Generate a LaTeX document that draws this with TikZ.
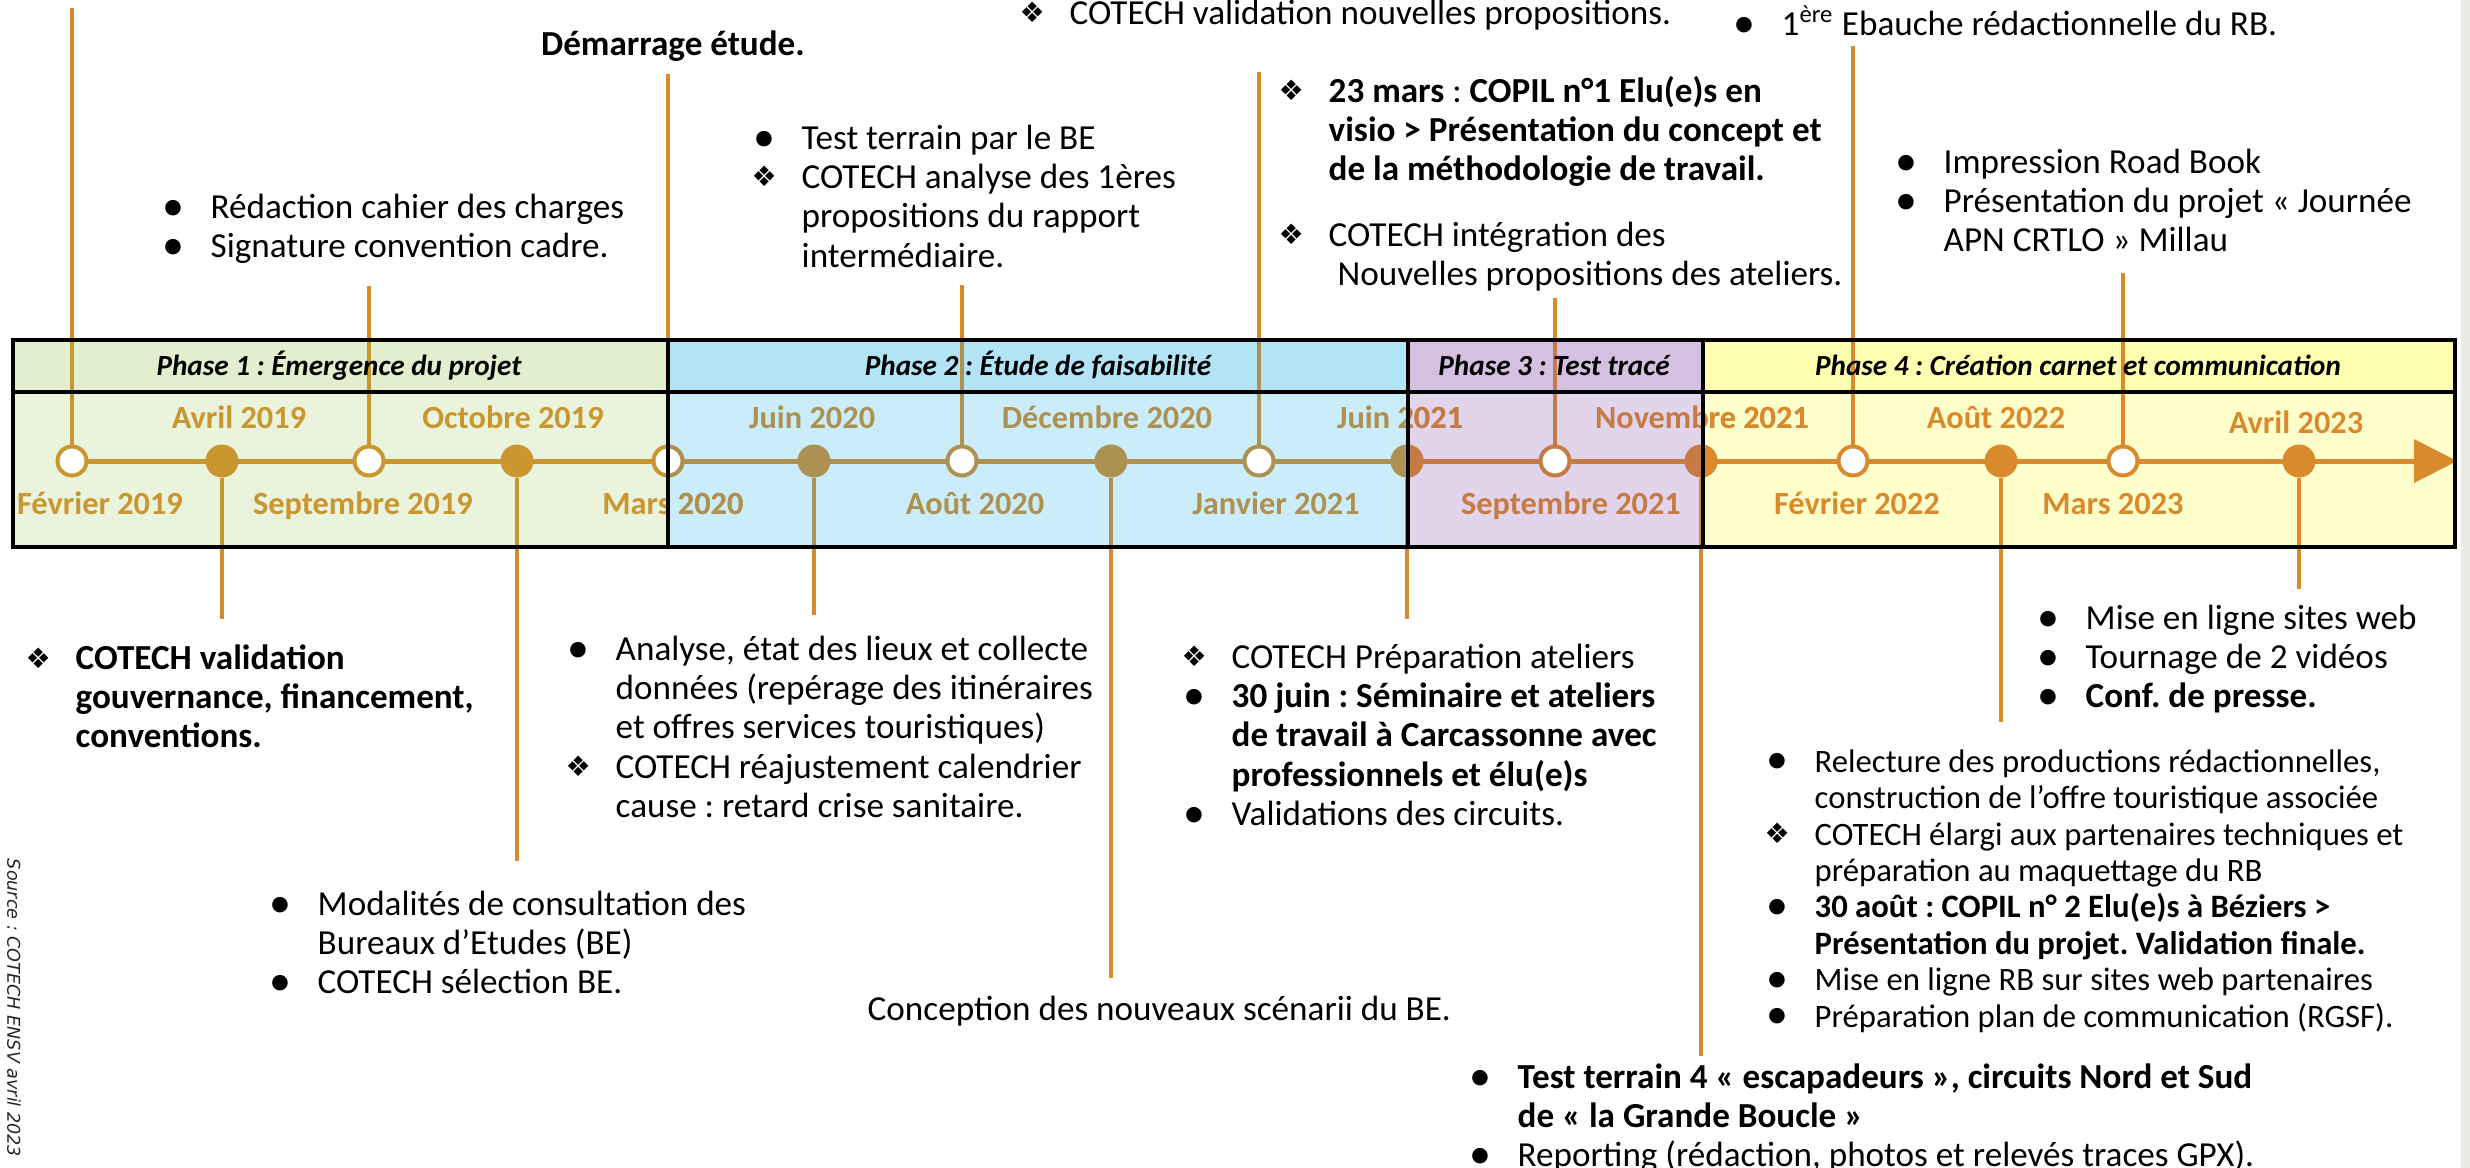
\documentclass[tikz,border=0pt]{standalone}
\usepackage{fontspec}
\setmainfont{Carlito}
\newfontfamily\djv{DejaVu Sans}
\frenchspacing
\pgfdeclarelayer{back}\pgfdeclarelayer{mid}\pgfdeclarelayer{front}
\pgfsetlayers{back,mid,main,front}
\definecolor{ph1h}{HTML}{E1EFCF}\definecolor{ph1b}{HTML}{EAF4DC}
\definecolor{ph2h}{HTML}{B2E4F6}\definecolor{ph2b}{HTML}{CBEDF9}
\definecolor{ph3h}{HTML}{D5C0E2}\definecolor{ph3b}{HTML}{E2D4EB}
\definecolor{ph4h}{HTML}{FFFFB2}\definecolor{ph4b}{HTML}{FFFFCC}
\definecolor{tl1}{HTML}{C9962F}\definecolor{tl2}{HTML}{AD9152}
\definecolor{tl3}{HTML}{C67B45}\definecolor{tl4}{HTML}{D98A2C}
\definecolor{conn}{HTML}{D98A2C}\definecolor{strip}{HTML}{EAEAE4}
\newcommand{\bu}{\strut\makebox[5mm][l]{\hspace{0.2mm}\raisebox{-0.5pt}{\fontsize{12.5}{12}\selectfont •}}}
\newcommand{\di}{\strut\makebox[5mm][l]{\raisebox{0.1ex}{\djv\fontsize{8}{8}\selectfont ❖}}}
\newcommand{\ct}{\strut\hspace*{5mm}}
\begin{document}
\begin{tikzpicture}[x=0.1mm,y=-0.1mm,
  cn/.style={line width=0.45mm, draw=conn},
  axisln/.style={line width=0.5mm},
  bord/.style={line width=0.35mm, draw=black},
  omk/.style={circle, draw=#1, fill=white, line width=0.4mm, minimum size=2.9mm, inner sep=0pt},
  fmk/.style={circle, fill=#1, minimum size=3.3mm, inner sep=0pt},
  dl/.style={font=\bfseries\fontsize{9.2}{11}\selectfont, anchor=base, text=#1, inner sep=0pt},
  hd/.style={font=\bfseries\itshape\fontsize{8.3}{10}\selectfont, anchor=base, inner sep=0pt},
  blk/.style={anchor=north west, inner sep=0pt, align=left, font=\fontsize{10}{11.2}\selectfont},
  sblk/.style={anchor=north west, inner sep=0pt, align=left, font=\fontsize{9.3}{10.36}\selectfont},
]
\useasboundingbox (0,0) rectangle (2470,1168);
\begin{pgfonlayer}{back}
 \fill[white] (0,0) rectangle (2470,1168);
 \fill[strip] (2461,0) rectangle (2470,1168);
 \fill[ph1b] (13,340) rectangle (668,547);
 \fill[ph1h] (13,340) rectangle (668,392);
 \fill[ph2b] (668,340) rectangle (1408,547);
 \fill[ph2h] (668,340) rectangle (1408,392);
 \fill[ph3b] (1408,340) rectangle (1703,547);
 \fill[ph3h] (1408,340) rectangle (1703,392);
 \fill[ph4b] (1703,340) rectangle (2455,547);
 \fill[ph4h] (1703,340) rectangle (2455,392);
\end{pgfonlayer}
% coordinates
\coordinate (top) at (0,340);
\coordinate (bot) at (0,547);
\coordinate (c1) at (72,8);
\coordinate (c2) at (222,619);
\coordinate (c3) at (369,286);
\coordinate (c4) at (517,861);
\coordinate (c5) at (668,74);
\coordinate (c6) at (814,615);
\coordinate (c7) at (962,285);
\coordinate (c8) at (1111,978);
\coordinate (c9) at (1259,72);
\coordinate (c10) at (1407,619);
\coordinate (c11) at (1555,298);
\coordinate (c12) at (1701,1056);
\coordinate (c13) at (1853,46);
\coordinate (c14) at (2001,722);
\coordinate (c15) at (2123,273);
\coordinate (c16) at (2299,589);
\coordinate (a1) at (668,461);
\coordinate (a2) at (1408,461);
\coordinate (a3) at (1703,461);
\coordinate (a4) at (2416,461);
\coordinate (tip) at (2457,461);
% markers
\node[omk=tl1] (m1) at (72,461) {};
\node[fmk=tl1] (m2) at (222,461) {};
\node[omk=tl1] (m3) at (369,461) {};
\node[fmk=tl1] (m4) at (517,461) {};
\node[omk=tl1] (m5) at (668,461) {};
\node[fmk=tl2] (m6) at (814,461) {};
\node[omk=tl2] (m7) at (962,461) {};
\node[fmk=tl2] (m8) at (1111,461) {};
\node[omk=tl2] (m9) at (1259,461) {};
\node[fmk=tl2] (m10) at (1407,461) {};
\node[omk=tl3] (m11) at (1555,461) {};
\node[fmk=tl3] (m12) at (1701,461) {};
\node[omk=tl4] (m13) at (1853,461) {};
\node[fmk=tl4] (m14) at (2001,461) {};
\node[omk=tl4] (m15) at (2123,461) {};
\node[fmk=tl4] (m16) at (2299,461) {};
\begin{pgfonlayer}{mid}
 \foreach \i in {1,...,16} \draw[cn] (m\i) -- (c\i);
 \draw[cn, draw=tl1] (m1) -- (m1 |- top) (m3) -- (m3 |- top) (m2) -- (m2 |- bot) (m4) -- (m4 |- bot);
 \draw[cn, draw=tl2] (m7) -- (m7 |- top) (m9) -- (m9 |- top) (m6) -- (m6 |- bot) (m8) -- (m8 |- bot);
 \draw[cn, draw=tl3] (m11) -- (m11 |- top);
 \draw[axisln, draw=tl1] (m1.center) -- (a1);
 \draw[axisln, draw=tl2] (a1) -- (a2);
 \draw[axisln, draw=tl3] (a2) -- (a3);
 \draw[axisln, draw=tl4] (a3) -- (a4);
 \fill[tl4] (2414,439) -- (tip) -- (2414,483) -- cycle;
\end{pgfonlayer}
% date labels
\node[dl=tl1] (d2) at (239,428) {Avril 2019};
\node[dl=tl1] (d4) at (513,428) {Octobre 2019};
\node[dl=tl2] (d6) at (812,428) {Juin 2020};
\node[dl=tl2] (d8) at (1107,428) {Décembre 2020};
\node[dl=tl2] (d10) at (1400,428) {Juin 2021};
\node[dl=tl3] (d12) at (1702,428) {Novembre 2021};
\node[dl=tl4] (d14) at (1996,428) {Août 2022};
\node[dl=tl4] (d16) at (2296,433) {Avril 2023};
\node[dl=tl1] (d1) at (100,514) {Février 2019};
\node[dl=tl1] (d3) at (363,514) {Septembre 2019};
\node[dl=tl1] (d5) at (673,514) {Mars 2020};
\node[dl=tl2] (d7) at (975,514) {Août 2020};
\node[dl=tl2] (d9) at (1276,514) {Janvier 2021};
\node[dl=tl3] (d11) at (1571,514) {Septembre 2021};
\node[dl=tl4] (d13) at (1857,514) {Février 2022};
\node[dl=tl4] (d15) at (2113,514) {Mars 2023};
% straddling parts
\begin{scope}
 \clip (668,395) rectangle (1000,545);
 \draw[tl2, line width=0.4mm, fill=white] (m5.center) circle[radius=1.45mm];
 \node[dl=tl2] (d5b) at (673,514) {Mars 2020};
\end{scope}
\begin{scope}
 \clip (1408,395) rectangle (1700,545);
 \fill[tl3] (m10.center) circle[radius=1.65mm];
 \node[dl=tl3] (d10b) at (1400,428) {Juin 2021};
\end{scope}
\begin{scope}
 \clip (1703,395) rectangle (2000,545);
 \fill[tl4] (m12.center) circle[radius=1.65mm];
 \node[dl=tl4] (d12b) at (1702,428) {Novembre 2021};
\end{scope}
% text blocks
\node[font=\bfseries\fontsize{10}{11.2}\selectfont, anchor=base, inner sep=0pt] (tA) at (673,55) {Démarrage étude.};
\node[blk] (tB) at (160,190) {\bu Rédaction cahier des charges\\ \bu Signature convention cadre.};
\node[blk] (tC) at (751,121) {\bu Test terrain par le BE\\ \di COTECH analyse des 1ères\\ \ct propositions du rapport\\ \ct intermédiaire.};
\node[blk] (tD) at (1019,-4) {\di COTECH validation nouvelles propositions.};
\node[blk] (tE) at (1278,74) {\di\textbf{23 mars} : \textbf{COPIL n°1 Elu(e)s en}\\ \ct\textbf{visio > Présentation du concept et}\\ \ct\textbf{de la méthodologie de travail.}};
\node[blk] (tF) at (1278,218) {\di COTECH intégration des\\ \ct\hspace{0.9mm}Nouvelles propositions des ateliers.};
\node[blk] (tG) at (1731,5) {\bu 1\textsuperscript{ère} Ebauche rédactionnelle du RB.};
\node[blk] (tH) at (1893,145) {\bu Impression Road Book\\ \bu Présentation du projet « Journée\\ \ct APN CRTLO » Millau};
\node[blk, font=\bfseries\fontsize{10}{11}\selectfont] (tI) at (25,642) {\di COTECH validation\\ \ct gouvernance, financement,\\ \ct conventions.};
\node[blk] (tJ) at (565,632) {\bu Analyse, état des lieux et collecte\\ \ct données (repérage des itinéraires\\ \ct et offres services touristiques)\\ \di COTECH réajustement calendrier\\ \ct cause : retard crise sanitaire.};
\node[blk] (tK) at (267,887) {\bu Modalités de consultation des\\ \ct Bureaux d’Etudes (BE)\\ \bu COTECH sélection BE.};
\node[font=\fontsize{10}{11.2}\selectfont, anchor=base west, inner sep=0pt] (tL) at (867,1020) {Conception des nouveaux scénarii du BE.};
\node[blk] (tM) at (1181,640) {\di COTECH Préparation ateliers\\ \bu\textbf{30 juin : Séminaire et ateliers}\\ \ct\textbf{de travail à Carcassonne avec}\\ \ct\textbf{professionnels et élu(e)s}\\ \bu Validations des circuits.};
\node[blk] (tN) at (2035,601) {\bu Mise en ligne sites web\\ \bu Tournage de 2 vidéos\\ \bu\textbf{Conf. de presse.}};
\node[sblk] (tO) at (1764,746) {\bu Relecture des productions rédactionnelles,\\ \ct construction de l’offre touristique associée\\ \di COTECH élargi aux partenaires techniques et\\ \ct préparation au maquettage du RB\\ \bu\textbf{30 août : COPIL n° 2 Elu(e)s à Béziers >}\\ \ct\textbf{Présentation du projet. Validation finale.}\\ \bu Mise en ligne RB sur sites web partenaires\\ \bu Préparation plan de communication (RGSF).};
\node[blk] (tP) at (1467,1060) {\bu\textbf{Test terrain 4 « escapadeurs », circuits Nord et Sud}\\ \ct\textbf{de « la Grande Boucle »}\\ \bu Reporting (rédaction, photos et relevés traces GPX).};
\node[rotate=-90, font=\djv\itshape\fontsize{5}{6}\selectfont, inner sep=0pt, text=black!85] (src) at (14,1008) {Source : COTECH ENSV avril 2023};
\begin{pgfonlayer}{front}
 \draw[bord] (13,340) rectangle (2455,547);
 \draw[bord] (13,392) -- (2455,392);
 \draw[bord] (668,340) -- (668,547);
 \draw[bord] (1408,340) -- (1408,547);
 \draw[bord] (1703,340) -- (1703,547);
 \node[hd] (h1) at (339,375) {Phase 1 : Émergence du projet};
 \node[hd] (h2) at (1038,375) {Phase 2 : Étude de faisabilité};
 \node[hd] (h3) at (1554,375) {Phase 3 : Test tracé};
 \node[hd] (h4) at (2078,375) {Phase 4 : Création carnet et communication};
\end{pgfonlayer}
\end{tikzpicture}
\end{document}
